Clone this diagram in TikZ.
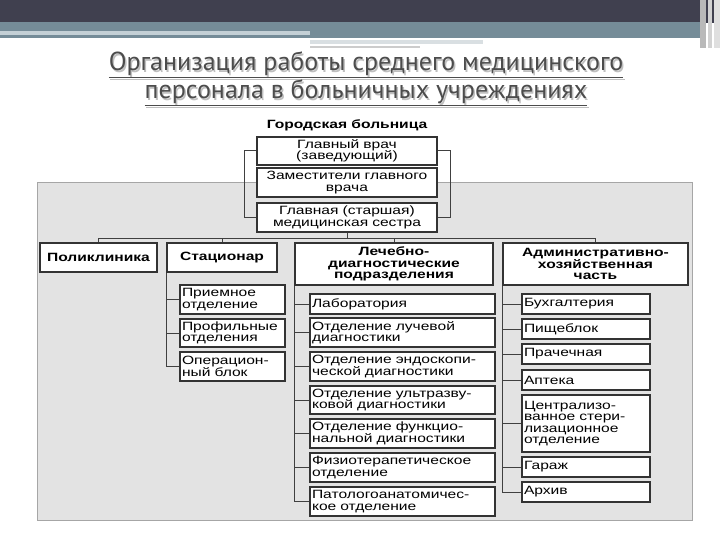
\documentclass[tikz,border=0pt]{standalone}
\usepackage{fontspec}
\setmainfont{Liberation Sans}[FakeStretch=1.3]
\newfontfamily\titlefont{PT Sans}
\begin{document}
\begin{tikzpicture}[x=1pt,y=-1pt,
  bx/.style={draw=black!80,line width=1.1pt,fill=white,inner sep=1.5pt,font=\fontsize{12}{11.5}\selectfont},
  cbx/.style={bx,align=center},
  lbx/.style={bx,align=left},
  bbx/.style={cbx,font=\fontsize{12}{11.5}\selectfont\bfseries},
  ln/.style={draw=black!75,line width=1pt}]
\useasboundingbox (0,0) rectangle (720,540);
% header
\fill[white] (0,0) rectangle (720,540);
\fill[black!20!blue!10!black!75] (0,0) rectangle (720,23);
\fill[cyan!35!black!70] (0,22) rectangle (700,38);
\fill[cyan!20!gray!45] (0,31) rectangle (310,35);
\fill[cyan!15!gray!30] (310,40) rectangle (483,44);
\fill[gray!40] (310,46) rectangle (420,48);
\fill[gray!55] (700,0) rectangle (706,48);
\fill[gray!35] (708,0) rectangle (712,48);
\fill[gray!25] (714,0) rectangle (720,48);
% title
\foreach \dx/\c in {1.5/gray!50,0/black!70}{
\node[text=\c,font=\titlefont\fontsize{26}{28}\selectfont,align=center] (t\dx) at (366+\dx,79+\dx)
  {\underline{Организация работы среднего медицинского}\\\underline{персонала в больничных учреждениях}};}
\newcommand\bxx[7]{\node[#6,minimum width={(#4-#2)*1pt},minimum height={(#5-#3)*1pt},text width={(#4-#2-4)*1pt}] (#1) at ({(#2+#4)/2},{(#3+#5)/2}) {#7};}
\fill[gray!22,draw=gray!70,line width=0.8pt] (37,182) rectangle (692,520);
\node[font=\fontsize{12}{12}\selectfont\bfseries] (gb) at (347,125) {Городская больница};
\bxx{gv}{257}{137}{437}{165}{cbx}{Главный врач\\(заведующий)}
\bxx{zam}{257}{168}{437}{197}{cbx}{Заместители главного\\врача}
\bxx{ms}{257}{203}{437}{232}{cbx}{Главная (старшая)\\медицинская сестра}
\draw[ln] (gv.west) -- ++(-12,0) |- (ms.west);
\draw[ln] (gv.east) -- ++(13,0) |- (ms.east);
\bxx{pol}{40}{243}{157}{272}{bbx}{Поликлиника}
\bxx{st}{167}{243}{277}{272}{bbx}{Стационар}
\bxx{ld}{295}{243}{493}{285}{bbx}{Лечебно-\\диагностические\\подразделения}
\bxx{ah}{503}{243}{688}{285}{bbx}{Административно-\\хозяйственная\\часть}
\coordinate (bus) at (0,238);
\draw[ln] (pol.north) -- (pol.north|-bus) -- (ah.north|-bus) -- (ah.north);
\draw[ln] (st.north) -- (st.north|-bus);
\draw[ln] (ld.north) -- (ld.north|-bus);
\draw[ln] (ms.south) -- (ms.south|-bus);
% stationar
\bxx{s1}{180}{285}{285}{314}{lbx}{Приемное\\отделение}
\bxx{s2}{180}{319}{285}{347}{lbx}{Профильные\\отделения}
\bxx{s3}{180}{352}{285}{381}{lbx}{Операцион-\\ный блок}
\draw[ln] (st.south west) -- (st.south west|-s3.west) -- (s3.west);
\foreach \n in {s1,s2}{\draw[ln] (\n.west) -- (\n.west-|st.south west);}
% lech-diag
\bxx{l1}{310}{294}{495}{314}{lbx}{Лаборатория}
\bxx{l2}{310}{318}{495}{347}{lbx}{Отделение лучевой\\диагностики}
\bxx{l3}{310}{352}{495}{381}{lbx}{Отделение эндоскопи-\\ческой диагностики}
\bxx{l4}{310}{386}{495}{414}{lbx}{Отделение ультразву-\\ковой диагностики}
\bxx{l5}{310}{419}{495}{448}{lbx}{Отделение функцио-\\нальной диагностики}
\bxx{l6}{310}{453}{495}{482}{lbx}{Физиотерапетическое\\отделение}
\bxx{l7}{310}{487}{495}{516}{lbx}{Патологоанатомичес-\\кое отделение}
\draw[ln] (ld.south west) -- (ld.south west|-l7.west) -- (l7.west);
\foreach \n in {l1,l2,l3,l4,l5,l6}{\draw[ln] (\n.west) -- (\n.west-|ld.south west);}
% admin
\bxx{a1}{522}{294}{650}{314}{lbx}{Бухгалтерия}
\bxx{a2}{522}{319}{650}{339}{lbx}{Пищеблок}
\bxx{a3}{522}{344}{650}{364}{lbx}{Прачечная}
\bxx{a4}{522}{370}{650}{390}{lbx}{Аптека}
\bxx{a5}{522}{395}{650}{452}{lbx}{Централизо-\\ванное стери-\\лизационное\\отделение}
\bxx{a6}{522}{457}{650}{477}{lbx}{Гараж}
\bxx{a7}{522}{482}{650}{502}{lbx}{Архив}
\draw[ln] (ah.south west) -- (ah.south west|-a7.west) -- (a7.west);
\foreach \n in {a1,a2,a3,a4,a5,a6}{\draw[ln] (\n.west) -- (\n.west-|ah.south west);}
\end{tikzpicture}
\end{document}
